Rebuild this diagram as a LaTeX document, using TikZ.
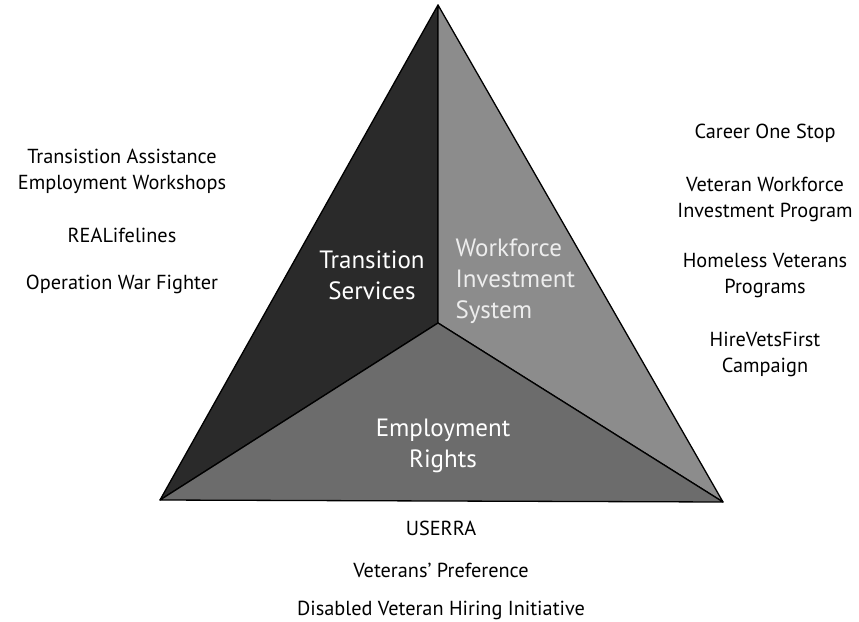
\documentclass[tikz,border=0pt]{standalone}
\usepackage{fontspec}
\setmainfont{PT Sans}
\usepackage{tikz}
\usetikzlibrary{positioning}

\definecolor{facedark}{HTML}{2A2A2A}
\definecolor{facelight}{HTML}{8C8C8C}
\definecolor{facemid}{HTML}{6C6C6C}

\begin{document}
\begin{tikzpicture}[
            x=1pt,y=-1pt,
            face/.style={
              draw=black,
              line width=1.3pt,
              line join=round
            },
            area/.style={
              align=center,
              font=\fontsize{25}{31}\selectfont,
              text=white
            },
            item/.style={
              align=center,
              font=\fontsize{20.3}{26}\selectfont,
              inner sep=0pt
            }
            ]
            \useasboundingbox (0,0) rectangle (859,621);
            % corners of the pyramid seen from above
            \coordinate (top) at (438,5);
            \coordinate (left) at (160,500);
            \coordinate (right) at (723,502);
            \coordinate (mid) at (438,323);

            \filldraw[face,fill=facedark] (top) -- (left) -- (mid) -- cycle;
            \filldraw[face,fill=facelight] (top) -- (mid) -- (right) -- cycle;
            \filldraw[face,fill=facemid] (left) -- (mid) -- (right) -- cycle;

            \node[area] (trans) at (372,275) {Transition\\Services};
            \node[area,align=left,anchor=west,text=white!93!black] (work) at (452,281)
              {Workforce\\Investment\\System};
            \node[area] (rights) at (443,446) {Employment\\Rights};

            % programs on the left
            \node[item] (tap) at (122,171) {Transistion Assistance\\Employment Workshops};
            \node[item,below=34pt of tap] (real) {REALifelines};
            \node[item,below=32pt of real] (owf) {Operation War Fighter};

            % programs on the right
            \node[item] (cos) at (765,133) {Career One Stop};
            \node[item] (vwip) at (765,199) {Veteran Workforce\\Investment Program};
            \node[item] (hvp) at (765,276) {Homeless Veterans\\Programs};
            \node[item] (hvf) at (765,354) {HireVetsFirst\\Campaign};

            % programs below
            \node[item] (userra) at (441,528) {USERRA};
            \node[item] (vp) at (441,570) {Veterans' Preference};
            \node[item] (dvhi) at (441,610) {Disabled Veteran Hiring Initiative};
        \end{tikzpicture}
\end{document}
